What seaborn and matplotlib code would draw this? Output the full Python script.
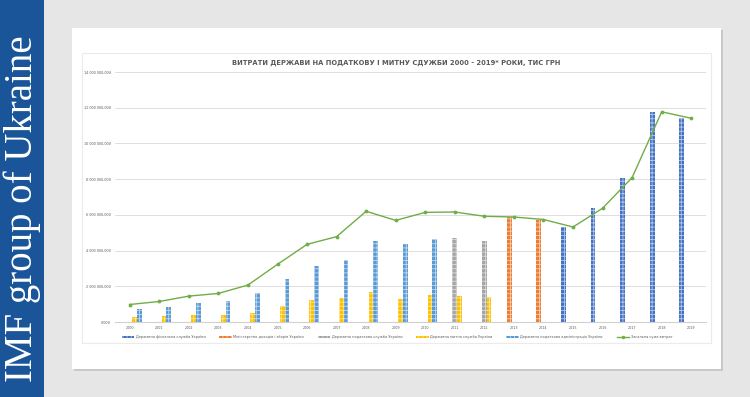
import numpy as np
import pandas as pd
import matplotlib
matplotlib.use("Agg")
import matplotlib.pyplot as plt
import seaborn as sns
from matplotlib.patches import Rectangle, Patch
from matplotlib.lines import Line2D
from matplotlib.ticker import FuncFormatter

# ---------------- data ----------------
years = [str(y) for y in range(2000, 2020)]

series_names = [
    "Державна фіскальна служба України",
    "Міністерство доходів і зборів України",
    "Державна податкова служба України",
    "Державна митна служба України",
    "Державна податкова адміністрація України",
]
total_name = "Загальна сума витрат"

dfs = {"2015": 5320000, "2016": 6370000, "2017": 8090000, "2018": 11750000, "2019": 11410000}
mindohodiv = {"2013": 5880000, "2014": 5740000}
dps = {"2011": 4700000, "2012": 4510000}
dms = {"2000": 260000, "2001": 320000, "2002": 370000, "2003": 420000, "2004": 490000,
       "2005": 870000, "2006": 1220000, "2007": 1330000, "2008": 1670000, "2009": 1310000,
       "2010": 1490000, "2011": 1470000, "2012": 1410000}
dpa = {"2000": 750000, "2001": 820000, "2002": 1060000, "2003": 1170000, "2004": 1600000,
       "2005": 2390000, "2006": 3130000, "2007": 3470000, "2008": 4530000, "2009": 4380000,
       "2010": 4660000}
total = [980000, 1150000, 1450000, 1600000, 2070000, 3230000, 4350000, 4780000, 6200000,
         5690000, 6140000, 6160000, 5920000, 5880000, 5740000, 5320000, 6370000, 8090000,
         11770000, 11410000]

title = "ВИТРАТИ ДЕРЖАВИ НА ПОДАТКОВУ І МИТНУ СДУЖБИ 2000 - 2019* РОКИ, ТИС ГРН"
side_text = "IMF group of Ukraine"

colors = ["#4472C4", "#ED7D31", "#A5A5A5", "#FFC000", "#5B9BD5"]
green = "#70AD47"
text_gray = "#595959"

# ---------------- table ----------------
rows = []
for name, d in zip(series_names, [dfs, mindohodiv, dps, dms, dpa]):
    for y in years:
        rows.append({"year": y, "series": name, "value": d.get(y, np.nan)})
df = pd.DataFrame(rows)

plt.rcParams["hatch.linewidth"] = 0.6
hatch_color = (1, 1, 1, 0.6)

# ---------------- figure ----------------
W, H = 750, 397
fig = plt.figure(figsize=(W / 100, H / 100), dpi=100)
fig.patch.set_facecolor("#E6E6E6")

def fx(px):
    return px / W

def fy(py):
    return 1 - py / H

# left blue band
fig.patches.append(Rectangle((0, 0), fx(44), 1, transform=fig.transFigure,
                             facecolor="#1A559A", edgecolor="none", zorder=-5))
fig.text(fx(22), fy(209), side_text, rotation=90, ha="center", va="center",
         color="white", fontsize=28, family="Liberation Serif", zorder=-4)

# white panel with soft shadow
fig.patches.append(Rectangle((fx(74), fy(370.5)), fx(649), fy(30) - fy(370.5),
                             transform=fig.transFigure, facecolor="#C8C8C8",
                             edgecolor="none", zorder=-5))
fig.patches.append(Rectangle((fx(72), fy(368.5)), fx(649), fy(28) - fy(368.5),
                             transform=fig.transFigure, facecolor="white",
                             edgecolor="none", zorder=-4))
# inner chart frame
fig.patches.append(Rectangle((fx(82), fy(342.5)), fx(629), fy(53) - fy(342.5),
                             transform=fig.transFigure, facecolor="white",
                             edgecolor="#EBEBEB", linewidth=0.8, zorder=-3))

fig.text(fx(396), fy(63), title, ha="center", va="center", color=text_gray,
         fontsize=4.9, fontweight="bold", family="DejaVu Sans")

# axes
ax_left, ax_right = 115, 706
ax_top, ax_bot = 72, 322
ax = fig.add_axes([fx(ax_left), fy(ax_bot), fx(ax_right - ax_left), fy(ax_top) - fy(ax_bot)])
ax.set_facecolor("none")

sns.barplot(data=df, x="year", y="value", hue="series", hue_order=series_names,
            palette=colors, width=0.8, dodge=True, ax=ax, legend=False,
            linewidth=0, saturation=1)
for p in ax.patches:
    p.set_hatch("++++")
    p.set_edgecolor(hatch_color)
    p.set_linewidth(0)

sns.pointplot(x=years, y=total, color=green, markers="o", markersize=2.0,
              linewidth=1.0, ax=ax, errorbar=None)

ax.set_xlim(-0.5, len(years) - 0.5)
ax.set_ylim(0, 14000000)
ax.set_yticks(np.arange(0, 14000001, 2000000))
ax.yaxis.set_major_formatter(FuncFormatter(
    lambda v, p: f"{int(v):,}".replace(",", " ") + ",00₴"))
ax.grid(axis="y", color="#D9D9D9", linewidth=0.6)
ax.set_axisbelow(True)
for s in ["left", "right", "top"]:
    ax.spines[s].set_visible(False)
ax.spines["bottom"].set_color("#D0D0D0")
ax.spines["bottom"].set_linewidth(0.8)
ax.tick_params(axis="both", length=0, labelsize=2.4, colors=text_gray, pad=3)
ax.set_xlabel("")
ax.set_ylabel("")

# legend
handles = []
for c in colors:
    handles.append(Patch(facecolor=c, edgecolor=hatch_color, hatch="++++", linewidth=0))
handles.append(Line2D([0], [0], color=green, lw=1.0, marker="o", markersize=1.5))
leg = fig.legend(handles, series_names + [total_name], loc="center",
                 bbox_to_anchor=(fx(397), fy(337)), ncol=6, frameon=False,
                 fontsize=2.5, handlelength=3.6, handleheight=0.7,
                 columnspacing=4.0, handletextpad=0.4, labelcolor=text_gray)

fig.savefig("out.png", dpi=100, facecolor=fig.get_facecolor())
